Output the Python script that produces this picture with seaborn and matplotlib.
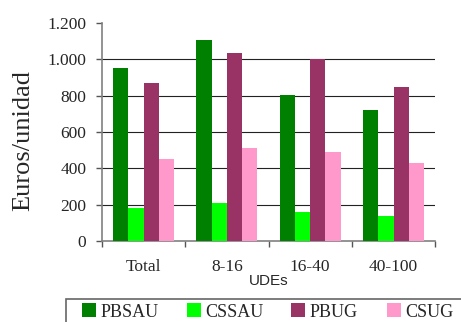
import matplotlib
matplotlib.use("Agg")
import matplotlib.pyplot as plt
import seaborn as sns
import pandas as pd
from matplotlib.patches import Rectangle, Patch
from matplotlib.ticker import FuncFormatter

categories = ["Total", "8-16", "16-40", "40-100"]
series = ["PBSAU", "CSSAU", "PBUG", "CSUG"]
pbsau = [952, 1106, 802, 721]
cssau = [182, 209, 160, 138]
pbug = [870, 1035, 1000, 848]
csug = [451, 514, 490, 429]
colors = ["#008000", "#00FF00", "#993366", "#FF99CC"]

rows = []
for name, vals in zip(series, [pbsau, cssau, pbug, csug]):
    for c, v in zip(categories, vals):
        rows.append({"UDEs": c, "serie": name, "valor": v})
df = pd.DataFrame(rows)

sns.set_theme(style="white")
plt.rcParams["font.family"] = ["Liberation Serif", "DejaVu Serif"]

fig = plt.figure(figsize=(4.61, 3.22), dpi=100)
ax = fig.add_axes([0.221, 0.2516, 0.723, 0.677])

sns.barplot(data=df, x="UDEs", y="valor", hue="serie", order=categories,
            hue_order=series, palette=colors, width=0.73, saturation=1,
            linewidth=0, ax=ax, legend=False, zorder=3)

ax.set_ylim(0, 1200)
ax.set_xlim(-0.5, 3.5)
ax.set_yticks([0, 200, 400, 600, 800, 1000, 1200])
ax.yaxis.set_major_formatter(FuncFormatter(lambda v, p: f"{int(v):,}".replace(",", ".")))
for y in [200, 400, 600, 800, 1000]:
    ax.axhline(y, color="#222222", lw=0.8, zorder=1)

ax.set_xticks(range(len(categories)))
ax.set_xticklabels(categories)
ax.set_xticks([-0.5, 0.5, 1.5, 2.5, 3.5], minor=True)
ax.tick_params(axis="x", which="major", length=0, pad=13, labelsize=12.5)
ax.tick_params(axis="x", which="minor", length=4, width=1, color="#555555", direction="out", bottom=True)
ax.tick_params(axis="y", length=4.3, width=1, color="#555555", direction="out", left=True, labelsize=12.5, pad=7)

for s in ["top", "right"]:
    ax.spines[s].set_visible(False)
for s in ["left", "bottom"]:
    ax.spines[s].set_color("#808080")
    ax.spines[s].set_linewidth(1.2)

ax.set_ylabel("Euros/unidad", fontsize=19)
ax.yaxis.set_label_coords(-0.204, 0.463)
ax.set_xlabel("UDEs", fontsize=11, family=["Liberation Sans", "DejaVu Sans"], labelpad=-1)

# legend frame
fig.patches.append(Rectangle((66 / 461, -0.05), 1.0, 0.05 + (322 - 299) / 322,
                             transform=fig.transFigure, fill=False,
                             edgecolor="#666666", lw=1.2, clip_on=False))
handle_x = [82, 187, 291, 387]
for name, c, hx in zip(series, colors, handle_x):
    leg = fig.legend([Patch(facecolor=c, edgecolor="none")], [name], loc="center left",
                     bbox_to_anchor=(hx / 461, 10 / 322), frameon=False, fontsize=13,
                     handlelength=0.8, handleheight=0.8, handletextpad=0.2,
                     borderaxespad=0, borderpad=0)

fig.savefig("out.png", dpi=100)
